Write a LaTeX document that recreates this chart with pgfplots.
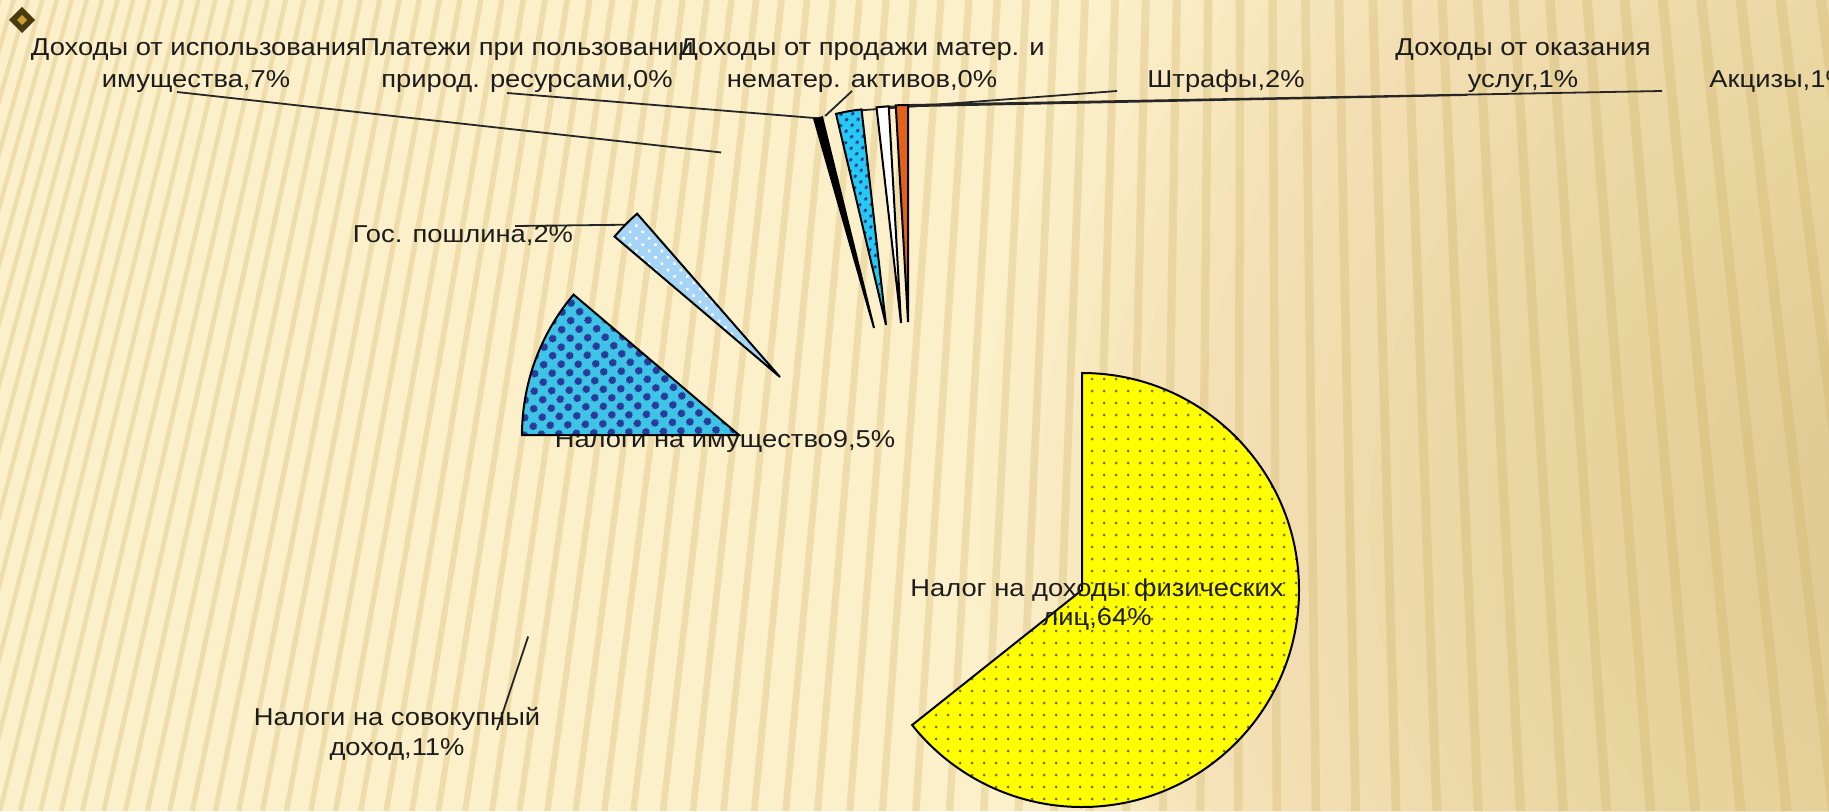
\documentclass[border=0pt]{standalone}
\usepackage{pgfplots}
\pgfplotsset{compat=1.18}
\usepackage{pgfplotstable}
\usetikzlibrary{patterns.meta}
\usepackage{fontspec}
\setmainfont{Liberation Sans}[FakeStretch=1.12]

\definecolor{bgA}{HTML}{FCF0CA}
\definecolor{bgB}{HTML}{DEC27C}
\definecolor{stripeC}{HTML}{D2B46A}
\definecolor{txt}{HTML}{1C1C1C}
\definecolor{yelF}{HTML}{FFFF00}
\definecolor{yelD}{HTML}{6E6E10}
\definecolor{cyanI}{HTML}{3EC4E6}
\definecolor{navyI}{HTML}{2A3A9A}
\definecolor{lblue}{HTML}{A6D4F6}
\definecolor{cyanS}{HTML}{26C8F4}
\definecolor{navyS}{HTML}{1F3A8A}
\definecolor{orng}{HTML}{E2621C}
\definecolor{ornD}{HTML}{4A3A10}
\definecolor{ornG}{HTML}{C8A030}

\tikzset{
  lab/.style={font=\fontsize{12.2}{14.6}\selectfont, text=txt, inner sep=0pt},
  leader/.style={draw=black!85, line width=0.9pt},
  slice/.style={draw=black, line width=1pt}}

% share of each slice (percent) and its explosion vector (px)
\pgfplotstableread{
key value dx dy
ndfl 64.31 173 -93
sov 10.69 -176 -68
imu 11.20 -170 62
posh 2.36 -129 120
isp 7.00 -84 154
plat 0.60 -35 169
prod 0.14 -33 170
shtr 1.90 -23 172
usl 0.90 -8 174
akc 0.90 -1 175
}\piedata

\newcommand\pS[1]{\csname pieS#1\endcsname}
\newcommand\pE[1]{\csname pieE#1\endcsname}
\newcommand\pX[1]{\csname pieX#1\endcsname}
\newcommand\pY[1]{\csname pieY#1\endcsname}
\newcommand\pU[1]{\csname pieU#1\endcsname}
\newcommand\pV[1]{\csname pieV#1\endcsname}

\newcommand\pieslice[2]{\path[#2] (axis cs:\pX{#1},\pY{#1}) -- ++(\pS{#1}:108.5pt) arc[start angle=\pS{#1}, end angle=\pE{#1}, radius=108.5pt] -- cycle;}

\begin{document}%
\begin{tikzpicture}[x=0.5pt,y=0.5pt]
\def\cum{90}
\pgfplotstablegetrowsof{\piedata}
\pgfmathtruncatemacro\lastrow{\pgfplotsretval-1}
\foreach \i in {0,...,\lastrow}{%
  \pgfplotstablegetelem{\i}{value}\of\piedata
  \let\myval\pgfplotsretval
  \pgfplotstablegetelem{\i}{dx}\of\piedata
  \let\mydx\pgfplotsretval
  \pgfplotstablegetelem{\i}{dy}\of\piedata
  \let\mydy\pgfplotsretval
  \pgfmathsetmacro\myst{\cum}%
  \pgfmathsetmacro\myen{\cum-3.6*\myval}%
  \pgfmathsetmacro\mymd{(\myst+\myen)/2}%
  \pgfmathsetmacro\myax{909+\mydx}%
  \pgfmathsetmacro\myay{314+\mydy}%
  \pgfmathsetmacro\myux{\myax+217*cos(\mymd)}%
  \pgfmathsetmacro\myuy{\myay+217*sin(\mymd)}%
  \expandafter\xdef\csname pieS\i\endcsname{\myst}%
  \expandafter\xdef\csname pieE\i\endcsname{\myen}%
  \expandafter\xdef\csname pieX\i\endcsname{\myax}%
  \expandafter\xdef\csname pieY\i\endcsname{\myay}%
  \expandafter\xdef\csname pieU\i\endcsname{\myux}%
  \expandafter\xdef\csname pieV\i\endcsname{\myuy}%
  \xdef\cum{\myen}%
}%
% slide background
\fill[bgA] (0,0) rectangle (1829,811);
\begin{scope}
\clip (0,0) rectangle (1829,811);
\foreach \k in {0,...,29}{
  \fill[bgB, opacity=0.03] (1980,290) circle ({1000-30*\k});
}
\foreach \k in {-18,...,68}{
  \pgfmathsetmacro\xb{1354.8*(exp(0.014762*\k)-1)}
  \pgfmathsetmacro\lw{0.11*(20+0.014762*max(\xb,0))}
  \draw[stripeC, line width=\lw pt, opacity=0.32] (1250,5111) -- (\xb,0);
}
\end{scope}
% ornament
\fill[ornD] (22,791) +(0,13) -- +(13,0) -- +(0,-13) -- +(-13,0) -- cycle;
\fill[ornG] (22,791) +(0,5) -- +(5,0) -- +(0,-5) -- +(-5,0) -- cycle;

\begin{axis}[x=0.5pt, y=0.5pt, xmin=0, xmax=1829, ymin=0, ymax=811,
  hide axis, clip=false]
% label lying under its slice
\node[lab, anchor=base] at (axis cs:725,364) {Налоги на имущество9,5\%};
% leader lines
\draw[leader] (axis cs:177,719) -- (axis cs:\pU{4},\pV{4});
\draw[leader] (axis cs:507,718) -- (axis cs:\pU{5},\pV{5});
\draw[leader] (axis cs:852,720) -- (axis cs:\pU{6},\pV{6});
\draw[leader] (axis cs:1117,720) -- (axis cs:\pU{7},\pV{7});
\draw[leader] (axis cs:1467,716) -- (axis cs:\pU{8},\pV{8});
\draw[leader] (axis cs:1662,720) -- (axis cs:\pU{9},\pV{9});
\draw[leader] (axis cs:515,585) -- (axis cs:\pU{3},\pV{3});
\draw[leader] (axis cs:497,81) -- (axis cs:\pU{1},\pV{1});
% slices (1, 4 and 6 have no fill)
\pieslice{0}{slice, preaction={fill=yelF}, pattern={Dots[radius=0.75pt,distance=6pt]}, pattern color=yelD}
\pieslice{2}{slice, preaction={fill=cyanI}, pattern={Dots[radius=2.1pt,distance=6.5pt,angle=45]}, pattern color=navyI}
\pieslice{3}{slice, preaction={fill=lblue}, pattern={Dots[radius=0.9pt,distance=4.5pt,angle=45]}, pattern color=white}
\pieslice{5}{slice, fill=black}
\pieslice{7}{slice, preaction={fill=cyanS}, pattern={Dots[radius=0.9pt,distance=4pt,angle=45]}, pattern color=navyS}
\pieslice{8}{slice, fill=white}
\pieslice{9}{slice, fill=orng}
% labels
\node[lab, anchor=base] at (axis cs:196,755) {Доходы от использования};
\node[lab, anchor=base] at (axis cs:196,724) {имущества,7\%};
\node[lab, anchor=base] at (axis cs:527,755) {Платежи при пользовании};
\node[lab, anchor=base] at (axis cs:527,724) {природ. ресурсами,0\%};
\node[lab, anchor=base] at (axis cs:862,755) {Доходы от продажи матер. и};
\node[lab, anchor=base] at (axis cs:862,724) {нематер. активов,0\%};
\node[lab, anchor=base] at (axis cs:1226,724) {Штрафы,2\%};
\node[lab, anchor=base] at (axis cs:1523,755) {Доходы от оказания};
\node[lab, anchor=base] at (axis cs:1523,724) {услуг,1\%};
\node[lab, anchor=base west] at (axis cs:1709,724) {Акцизы,1\%};
\node[lab, anchor=base] at (axis cs:463,569) {Гос. пошлина,2\%};
\node[lab, anchor=base] at (axis cs:1097,215) {Налог на доходы физических};
\node[lab, anchor=base] at (axis cs:1097,186) {лиц,64\%};
\node[lab, anchor=base] at (axis cs:397,86) {Налоги на совокупный};
\node[lab, anchor=base] at (axis cs:397,56) {доход,11\%};
\end{axis}
\pgfresetboundingbox
\useasboundingbox (0,0) rectangle (1829,811);
\end{tikzpicture}%
\end{document}
